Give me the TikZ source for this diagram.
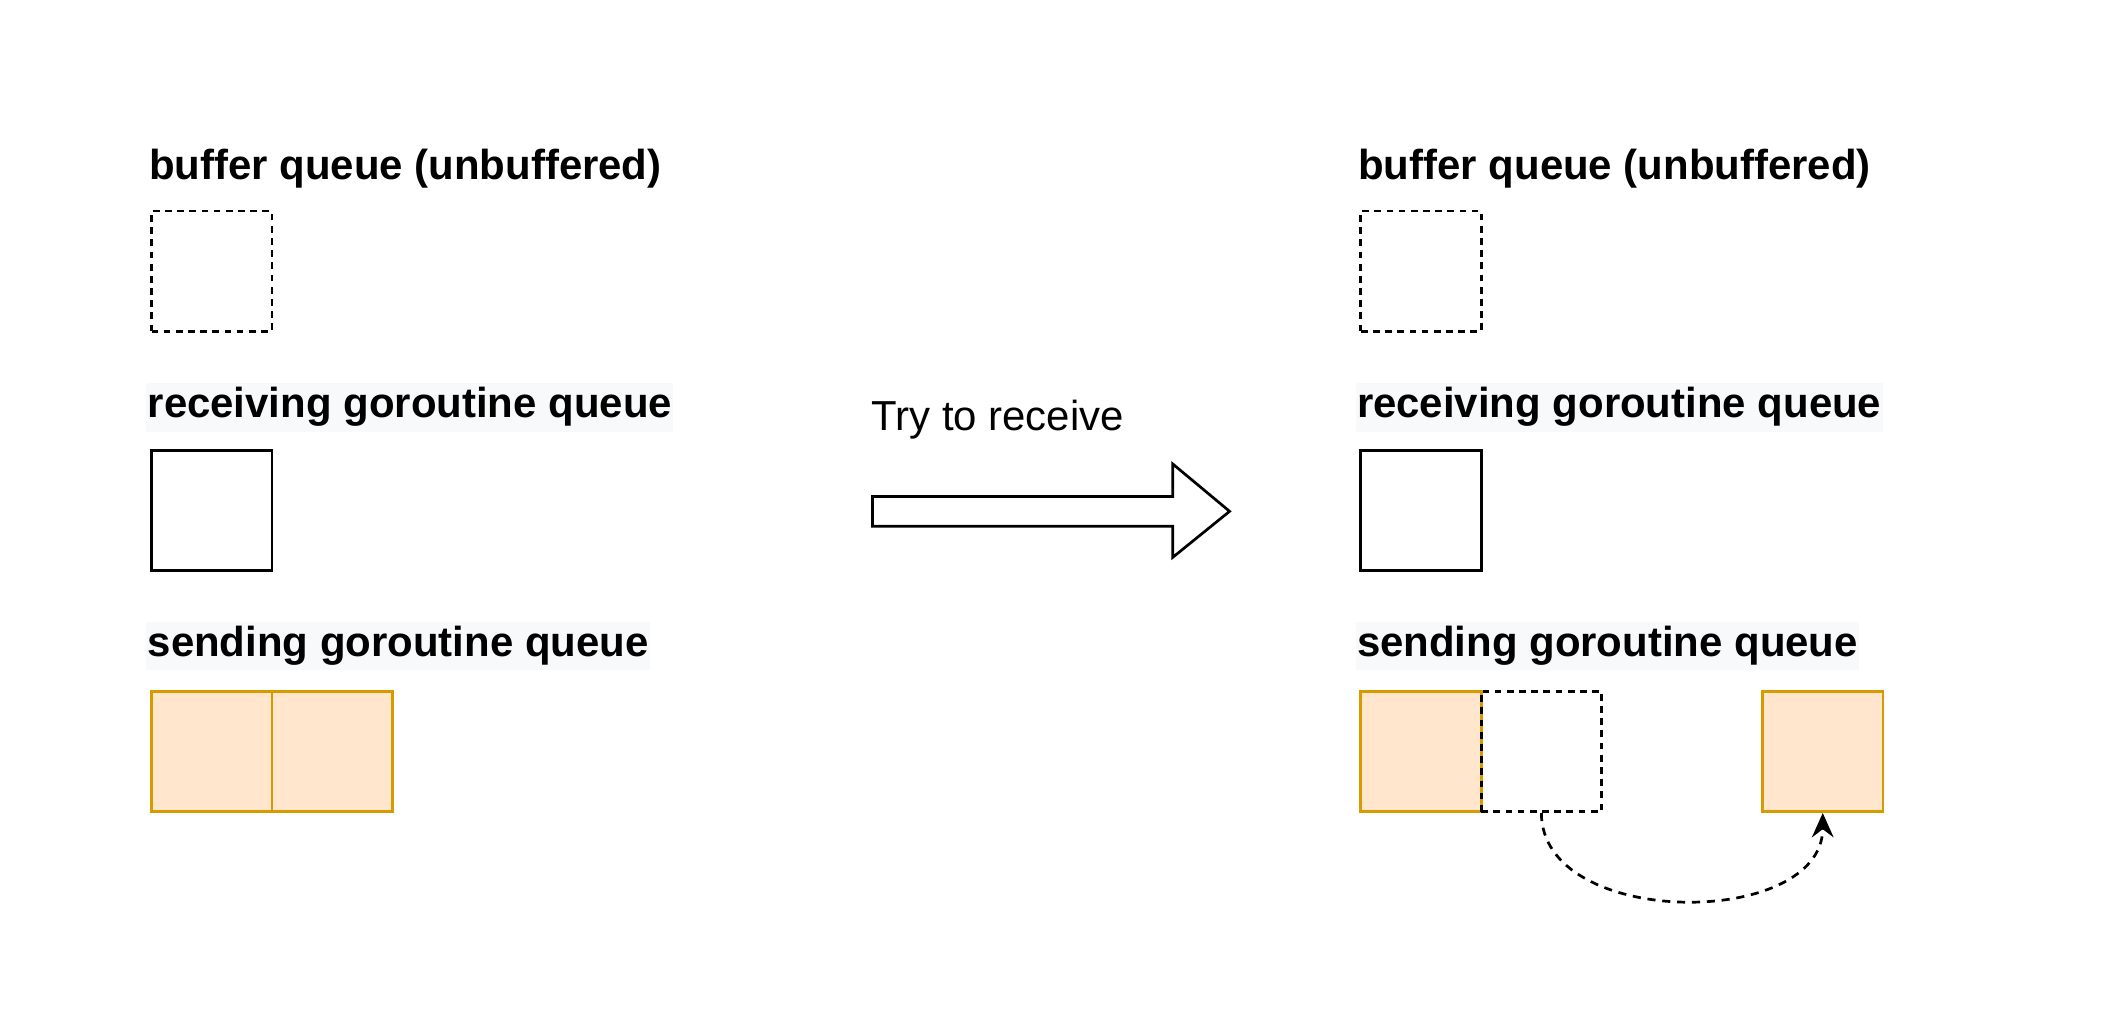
\documentclass[tikz,border=0pt]{standalone}
\usepackage{fontspec}
\setmainfont{Liberation Sans}
\usetikzlibrary{arrows.meta}
\definecolor{slotfill}{HTML}{FFE6CC}
\definecolor{slotdraw}{HTML}{D79B00}
\definecolor{labelbg}{HTML}{F8F9FA}

\begin{document}
\begin{tikzpicture}[x=1pt, y=-1pt,
    slot/.style={draw, line width=2pt, minimum size=89pt, inner sep=0pt},
    emptyslot/.style={slot, dash pattern=on 5pt off 4pt},
    fullslot/.style={slot, draw=slotdraw, fill=slotfill},
    title/.style={anchor=west, font=\fontsize{31}{37}\selectfont\bfseries, inner xsep=1pt, inner ysep=3pt, text height=23pt, text depth=7pt},
    shaded/.style={title, fill=labelbg}]
    \useasboundingbox (0,0) rectangle (1568,756);

    % before
    \node[title] (bufL) at (109,125) {buffer queue (unbuffered)};
    \node[emptyslot] (bL) at (156.5,200.5) {};
    \node[shaded] (recvL) at (108,301) {receiving goroutine queue};
    \node[slot] (rL) at (156.5,377.5) {};
    \node[shaded] (sendL) at (108,477.5) {sending goroutine queue};
    \node[fullslot] (s1L) at (156.5,555.5) {};
    \node[fullslot] (s2L) at (245.5,555.5) {};

    % the step
    \node[anchor=west, font=\fontsize{31}{37}\selectfont, inner sep=0pt] (act) at (644,310) {Try to receive};
    \draw[line width=2pt, fill=white] (645,367) -- (867,367) -- (867,343) -- (909,378)
        -- (867,412) -- (867,389) -- (645,389) -- cycle;

    % after
    \node[title] (bufR) at (1003,125) {buffer queue (unbuffered)};
    \node[emptyslot] (bR) at (1050.5,200.5) {};
    \node[shaded] (recvR) at (1002,301) {receiving goroutine queue};
    \node[slot] (rR) at (1050.5,377.5) {};
    \node[shaded] (sendR) at (1002,477.5) {sending goroutine queue};
    \node[fullslot] (s1R) at (1050.5,555.5) {};
    \node[fullslot] (s3R) at (1347.5,555.5) {};
    \node[emptyslot] (s2R) at (1139.5,555.5) {};
    \draw[line width=2pt, dash pattern=on 6pt off 5pt, -{Stealth[length=18pt, width=16pt, inset=6pt]}]
        (s2R.south) .. controls +(0,86) and +(0,86) .. (s3R.south);
\end{tikzpicture}
\end{document}
